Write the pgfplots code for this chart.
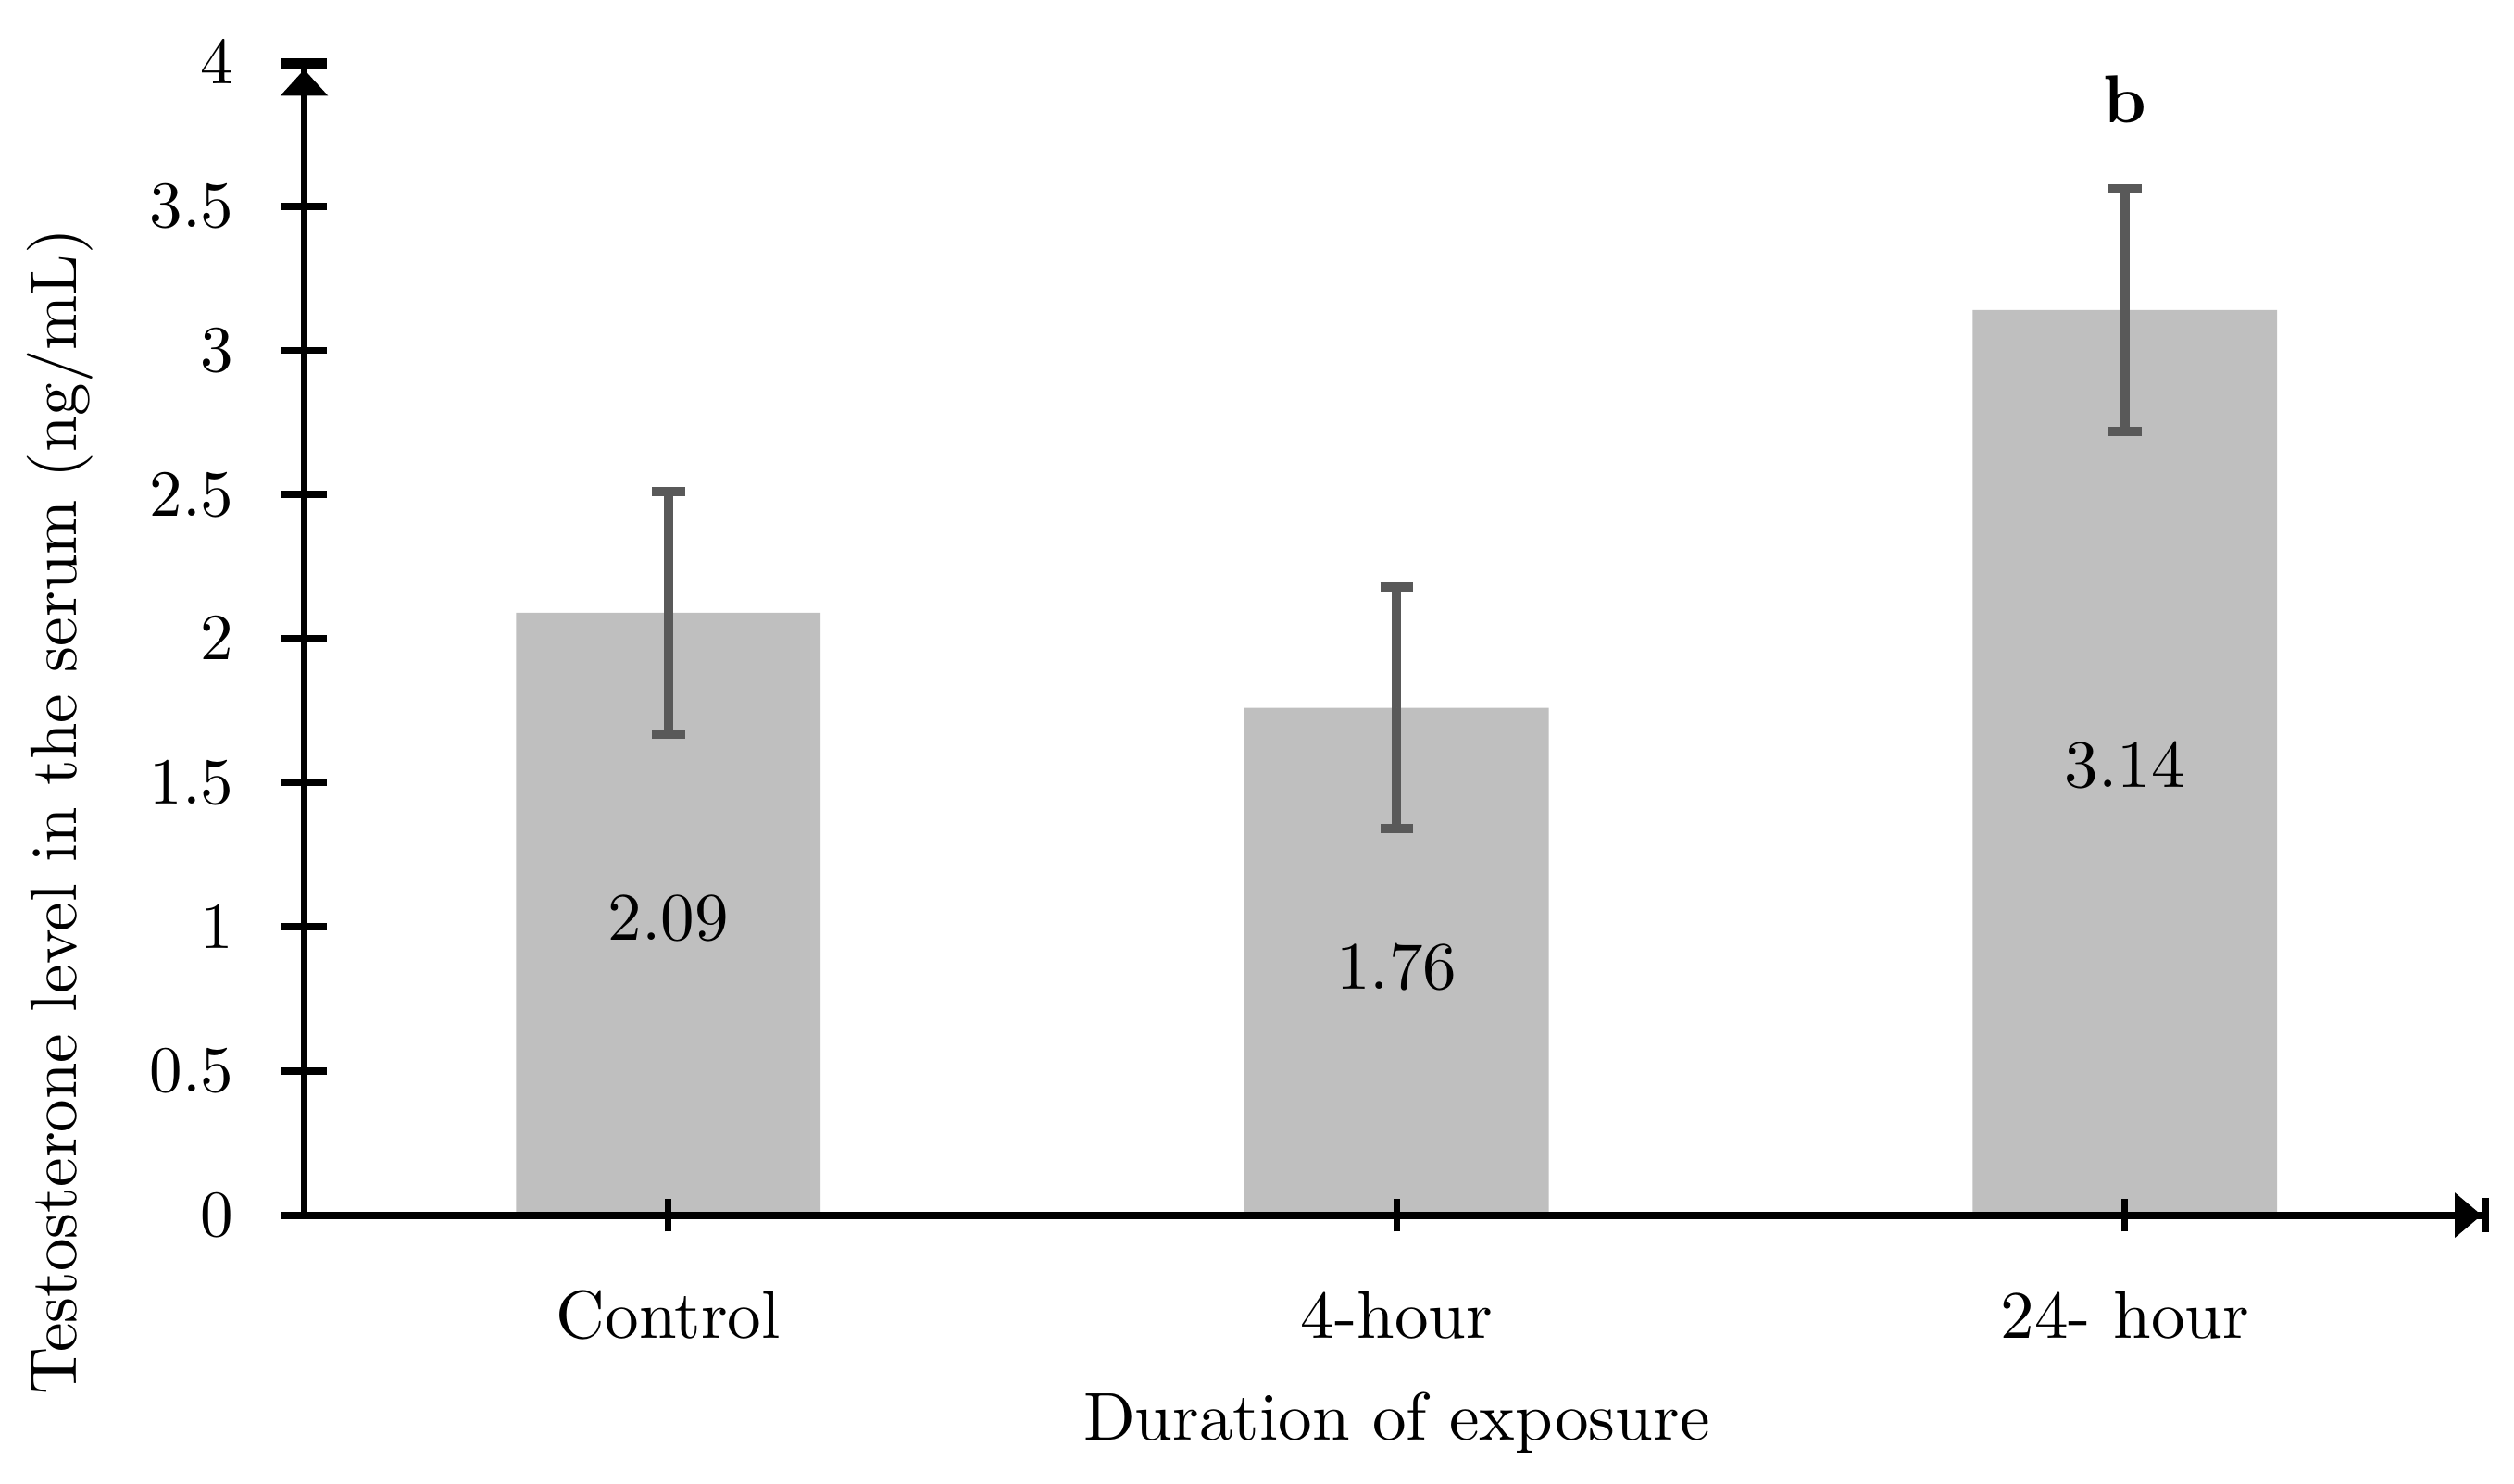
\documentclass[border=0pt]{standalone}
\usepackage{pgfplots}
\pgfplotsset{compat=1.18}
\usetikzlibrary{arrows.meta}
\definecolor{barg}{RGB}{191,191,191}
\definecolor{errg}{RGB}{89,89,89}
\newcommand{\lblfont}{\fontsize{10.3}{12.4}\selectfont}
\begin{document}
\begin{tikzpicture}
\path[use as bounding box] (-46.27pt,-40.77pt) rectangle (336.1pt,184.86pt);
\begin{axis}[
  at={(0pt,0pt)}, anchor=south west,
  scale only axis, width=332.3pt, height=175.4pt,
  xmin=-0.5, xmax=2.5, ymin=0, ymax=4,
  axis lines=left,
  axis on top=true,
  axis line style={line width=1.1pt, black},
  x axis line style={-{Triangle[length=4.1pt,width=6.6pt]Bar[width=5.3pt]}},
  y axis line style={-{Triangle[length=4pt,width=7pt]Bar[width=7pt]}},
  ytick={0,0.5,1,1.5,2,2.5,3,3.5,4},
  xtick={0,1,2},
  xticklabels={Control,4-hour,24- hour},
  tick align=center,
  major tick length=7pt,
  xtick style={/pgfplots/major tick length=5pt, line width=1pt},
  tick style={black, line width=1.1pt},
  tick label style={font=\lblfont},
  label style={font=\lblfont},
  yticklabel style={xshift=-3.7pt},
  xticklabel style={anchor=base, yshift=-15.2pt},
  xlabel={Duration of exposure},
  xlabel style={at={(axis description cs:0.5,-0.195)}, anchor=base},
  ylabel={Testosterone level in the serum (ng/mL)},
  ylabel style={at={(axis description cs:-0.112,0.35)}, anchor=center, font=\fontsize{10}{12}\selectfont},
]
\addplot[ybar, bar width=46.3pt, fill=barg, draw=none,
  error bars/.cd, y dir=both, y explicit,
  error bar style={draw=errg, line width=1.4pt},
  error mark options={rotate=90, mark size=2.5pt, draw=errg, line width=1.4pt}]
  coordinates {(0,2.09) +- (0,0.42) (1,1.76) +- (0,0.42) (2,3.14) +- (0,0.42)};
\addplot[draw=none, mark=none, nodes near coords, point meta=explicit symbolic,
  every node near coord/.append style={anchor=center, font=\lblfont, text=black}]
  coordinates {(0,1.03)[2.09] (1,0.86)[1.76] (2,1.56)[3.14]};
\node[anchor=base, font=\lblfont\bfseries] at (axis cs:2,3.79) {b};
\end{axis}
\end{tikzpicture}
\end{document}
